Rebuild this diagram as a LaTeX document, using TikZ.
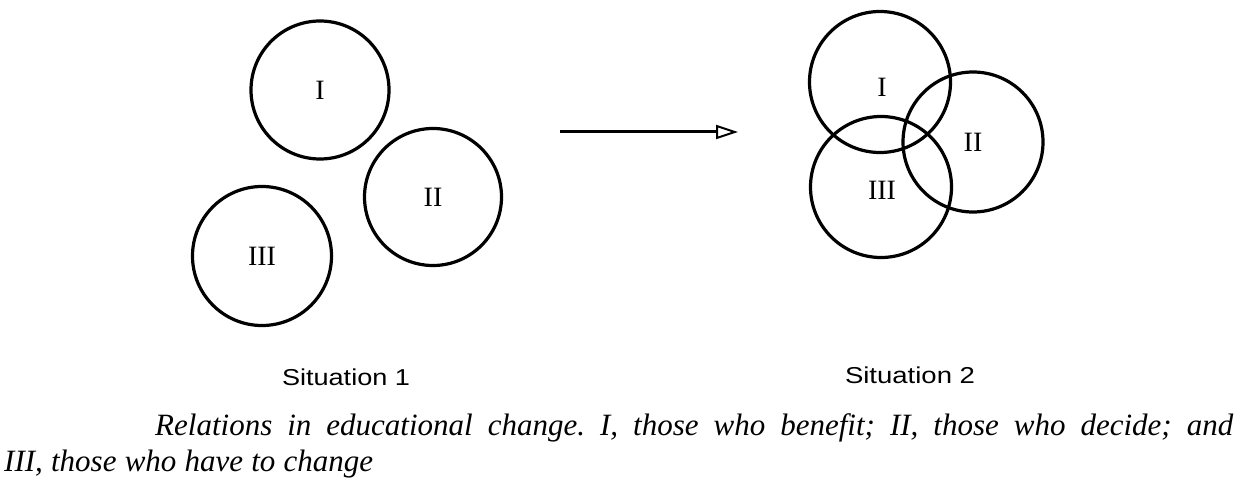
\documentclass[tikz,border=0pt]{standalone}
\usepackage{fontspec}
\setmainfont{Liberation Serif}
\newfontfamily\capsans{Liberation Sans}
\usepackage{graphicx}
\usetikzlibrary{arrows.meta}
\frenchspacing
\begin{document}
\begin{tikzpicture}[x=1pt,y=-1pt,
  ring/.style={circle,draw,line width=3.2pt,inner sep=0pt,font=\fontsize{28}{30}\selectfont},
  numlabel/.style={inner sep=0pt,font=\fontsize{28}{30}\selectfont},
  sitlabel/.style={inner sep=0pt,font=\capsans\fontsize{23}{26}\selectfont},
  captext/.style={inner sep=0pt,anchor=base west,font=\itshape\fontsize{31}{34}\selectfont}]
\useasboundingbox (0,0) rectangle (1236,478);
% Situation 1
\node[ring,minimum size=138pt] (aI) at (320,90) {I};
\node[ring,minimum size=137pt] (aII) at (433,197) {II};
\node[ring,minimum size=139pt] (aIII) at (262,256) {III};
% arrow
\coordinate (arrS) at (560,132);
\coordinate (arrE) at (738,132);
\draw[line width=3pt,-{Triangle[open,length=22pt,width=14pt,line width=2pt]}] (arrS) -- (arrE);
% Situation 2
\node[ring,minimum size=141pt] (bI) at (880,82) {};
\node[ring,minimum size=140pt] (bII) at (973,142) {};
\node[ring,minimum size=141pt] (bIII) at (881,187) {};
\node[numlabel] (tI) at (882,87) {I};
\node[numlabel] (tII) at (973,142) {II};
\node[numlabel] (tIII) at (882,190) {III};
% captions
\node[sitlabel] (s1) at (346,377) {\resizebox{128pt}{\height}{Situation 1}};
\node[sitlabel] (s2) at (910,375) {\resizebox{130pt}{\height}{Situation 2}};
\node[captext] (c1) at (155,435) {\makebox[1078pt][s]{Relations in educational change. I, those who benefit; II, those who decide; and}};
\node[captext] (c2) at (4,471) {\makebox[369pt][s]{III, those who have to change}};
\end{tikzpicture}
\end{document}
